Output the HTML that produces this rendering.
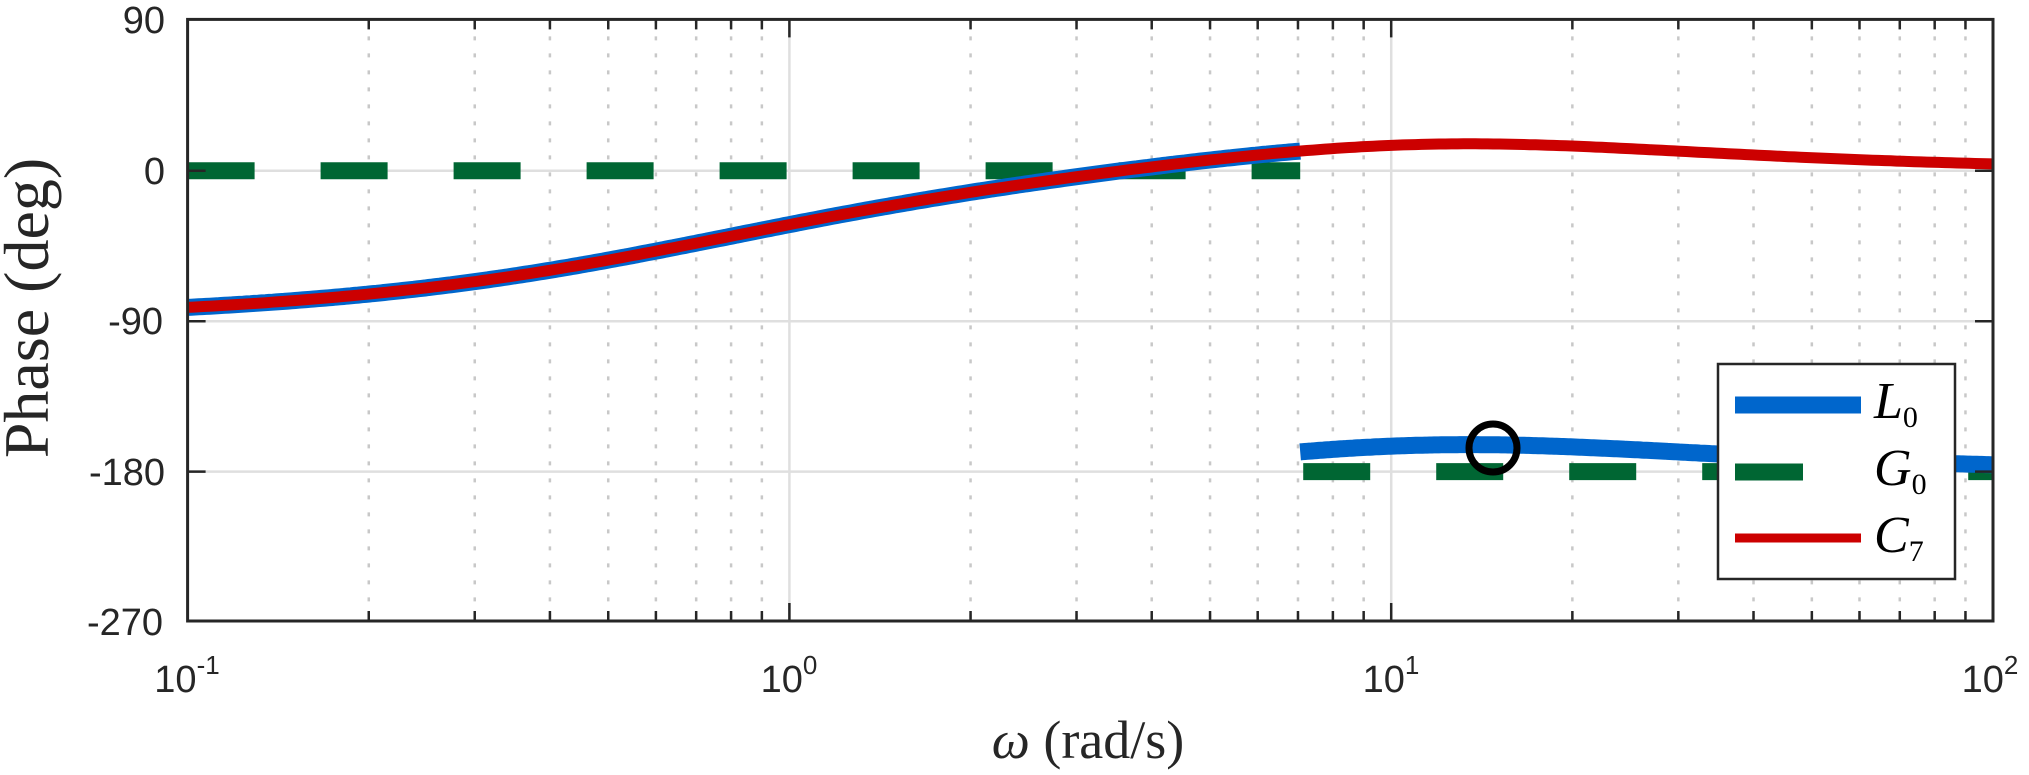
<!DOCTYPE html>
<html><head><meta charset="utf-8"><style>
html,body{margin:0;padding:0;background:#fff;}
svg{display:block;}
text{fill:#262626;}
</style></head><body>
<svg id="s" width="2029" height="775" xmlns="http://www.w3.org/2000/svg">
<rect width="2029" height="775" fill="#fff"/>
<g id="grid"></g>
<g id="curves"></g>
<circle cx="1493" cy="448" r="24" fill="none" stroke="#000" stroke-width="7"/>
<g id="axes"></g>
<rect x="1718" y="364" width="237" height="215" fill="#fff" stroke="#262626" stroke-width="2.5"/>
<line x1="1735" y1="405" x2="1861" y2="405" stroke="#0066cc" stroke-width="17"/>
<line x1="1735" y1="472" x2="1803" y2="472" stroke="#006633" stroke-width="17"/>
<line x1="1735" y1="538" x2="1861" y2="538" stroke="#cc0000" stroke-width="9"/>
<g font-family="Liberation Serif, serif" font-style="italic" font-size="52">
<text x="1874" y="418" style="fill:#000">L<tspan font-style="normal" font-size="30" dy="9">0</tspan></text>
<text x="1874" y="485" style="fill:#000">G<tspan font-style="normal" font-size="30" dy="9">0</tspan></text>
<text x="1874" y="552" style="fill:#000">C<tspan font-style="normal" font-size="30" dy="9">7</tspan></text>
</g>
<g font-family="Liberation Sans, sans-serif" font-size="38" text-anchor="end">
<text x="165" y="33">90</text>
<text x="165" y="184">0</text>
<text x="163" y="334">-90</text>
<text x="165" y="485">-180</text>
<text x="163" y="635">-270</text>
</g>
<g font-family="Liberation Sans, sans-serif" font-size="38" text-anchor="middle">
<text x="187" y="692">10<tspan font-size="26" dy="-18">-1</tspan></text>
<text x="789" y="692">10<tspan font-size="26" dy="-18">0</tspan></text>
<text x="1391" y="692">10<tspan font-size="26" dy="-18">1</tspan></text>
<text x="1990" y="692">10<tspan font-size="26" dy="-18">2</tspan></text>
</g>
<text x="1088" y="758" font-family="Liberation Serif, serif" font-size="54" text-anchor="middle"><tspan font-style="italic">ω</tspan> (rad/s)</text>
<text transform="translate(48,308) rotate(-90)" font-family="Liberation Serif, serif" font-size="64" text-anchor="middle">Phase (deg)</text>
</svg>
<script>
var L=187.6,R=1993,T=19.4,B=621,D=(R-L)/3;
function X(w){return L+(Math.log10(w)+1)*D;}
function Y(p){return 170.8-p/90*150.4;}
var ns="http://www.w3.org/2000/svg";
function el(g,t,a){var e=document.createElementNS(ns,t);for(var k in a)e.setAttribute(k,a[k]);document.getElementById(g).appendChild(e);return e;}
for(var d=-1;d<2;d++)for(var m=2;m<10;m++){var x=X(m*Math.pow(10,d));
el("grid","line",{x1:x,x2:x,y1:T,y2:B,stroke:"#c8c8c8","stroke-width":2.5,"stroke-dasharray":"4 13"});
el("axes","line",{x1:x,x2:x,y1:B,y2:B-10,stroke:"#262626","stroke-width":2.5});
el("axes","line",{x1:x,x2:x,y1:T,y2:T+10,stroke:"#262626","stroke-width":2.5});}
for(var d=0;d<3;d++){var x=X(Math.pow(10,d));el("grid","line",{x1:x,x2:x,y1:T,y2:B,stroke:"#dfdfdf","stroke-width":2.5});
el("axes","line",{x1:x,x2:x,y1:B,y2:B-18,stroke:"#262626","stroke-width":2.5});el("axes","line",{x1:x,x2:x,y1:T,y2:T+18,stroke:"#262626","stroke-width":2.5});}
[0,-90,-180].forEach(function(p){var y=Y(p);el("grid","line",{x1:L,x2:R,y1:y,y2:y,stroke:"#dfdfdf","stroke-width":2.5});
el("axes","line",{x1:L,x2:L+18,y1:y,y2:y,stroke:"#262626","stroke-width":2.5});el("axes","line",{x1:R,x2:R-18,y1:y,y2:y,stroke:"#262626","stroke-width":2.5});});
el("axes","rect",{x:L,y:T,width:R-L,height:B-T,fill:"none",stroke:"#262626","stroke-width":3});
var r2d=180/Math.PI;
function ph(w){return -90+Math.atan(w/0.72)*r2d+(Math.atan(w/8)-Math.atan(w/16))*r2d;}
function path(a,b,off){var s="";for(var i=0;i<=300;i++){var lw=Math.log10(a)+(Math.log10(b)-Math.log10(a))*i/300,w=Math.pow(10,lw);s+=(i?"L":"M")+X(w).toFixed(1)+","+Y(ph(w)+off).toFixed(1);}return s;}
var wb=7.06;
el("curves","line",{x1:L,x2:X(wb),y1:Y(0),y2:Y(0),stroke:"#006633","stroke-width":17,"stroke-dasharray":"67 66"});
el("curves","line",{x1:X(wb)+3,x2:R,y1:Y(-180),y2:Y(-180),stroke:"#006633","stroke-width":17,"stroke-dasharray":"67 66"});
el("curves","path",{d:path(0.1,wb,0),fill:"none",stroke:"#0066cc","stroke-width":17});
el("curves","path",{d:path(wb,100,-180),fill:"none",stroke:"#0066cc","stroke-width":17});
el("curves","path",{d:path(0.1,100,0),fill:"none",stroke:"#cc0000","stroke-width":11});
</script>
</body></html>
